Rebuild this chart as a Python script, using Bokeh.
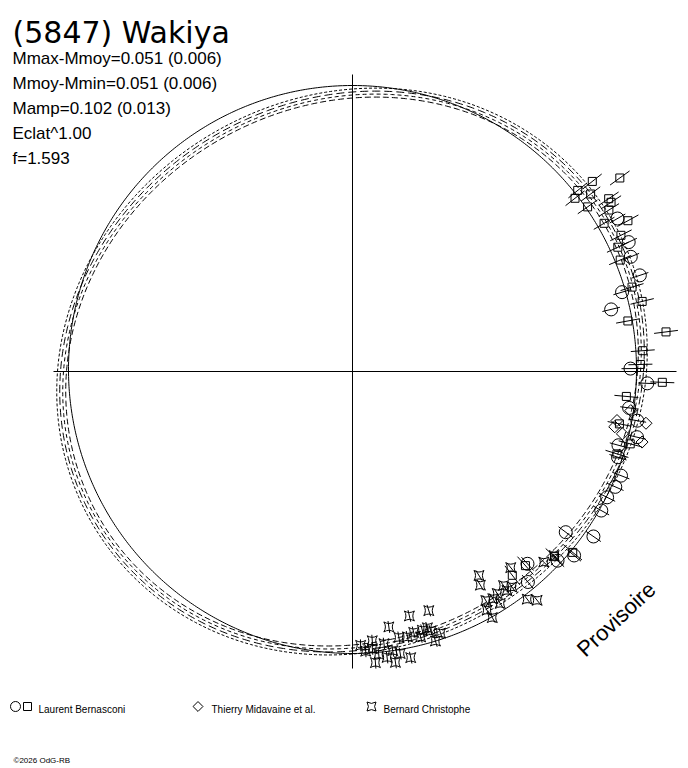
import numpy as np
from bokeh.plotting import figure
from bokeh.models import Range1d, Label
from bokeh.embed import file_html
from bokeh.resources import INLINE

# ---------------- texts ----------------
title_text = "(5847) Wakiya"
stats_lines = ["Mmax-Mmoy=0.051 (0.006)", "Mmoy-Mmin=0.051 (0.006)",
               "Mamp=0.102 (0.013)", "Eclat^1.00", "f=1.593"]
legend_names = ["Laurent Bernasconi", "Thierry Midavaine et al.", "Bernard Christophe"]
watermark = "Provisoire"
copyright_text = "\u00a92026 OdG-RB"

# ---------------- observations (phase angle in degrees, polar radius) ----------------
# Laurent Bernasconi, session 1 (circles)
circ_phase = [30.0, 25.1, 22.4, 18.5, 16.4, 13.5, 0.6, -2.3, -7.5, -9.8, -13.0, -15.5,
              -17.9, -21.2, -23.7, -26.3, -29.2, -34.4, -37.0, -39.7, -47.7, -50.2, -42.7]
circ_r = [306, 305, 301, 303, 281, 266, 278, 295, 279, 289, 292, 276,
          279, 288, 287, 284, 285, 292, 267, 288, 260, 274, 279]
circ_err = 9

# Laurent Bernasconi, session 2 (squares)
sq_phase = [38.4, 35.9, 38.8, 37.9, 36.7, 35.0, 34.0, 33.2, 32.2, 30.5, 28.7, 26.9,
            25.1, 22.6, 16.8, 13.6, 10.4, 7.2, 4.1, 1.4, -2.0, -5.2, -11.1, -14.6,
            -17.3, -39.4, -42.5, -51.9, -48.3]
sq_r = [306, 330, 289, 282, 297, 287, 309, 309, 303, 292, 314, 301,
        293, 290, 292, 298, 280, 316, 291, 288, 310, 275, 272, 287,
        277, 285, 274, 259, 260]
sq_err = 12

# Thierry Midavaine et al. (diamonds)
dia_phase = [-10.5, -10.0, -13.0, -13.7, -11.9, -8.0]
dia_r = [269, 298, 277, 298, 268, 281]

# Bernard Christophe (pinched squares)
star_phase = [-51.1, -58.2, -59.1, -72.3, -76.9, -81.9, -85.8, -83.4, -80.1, -78.3,
              -74.9, -73.2, -72.9, -75.6, -84.7, -83.1, -85.5, -80.4, -78.5, -59.8,
              -60.6, -60.4, -56.9, -57.5, -54.8, -53.5, -52.5, -51.1, -44.9, -42.4,
              -87.3, -88.3, -81.8, -73.7, -76.8, -81.6, -54.8, -58.3, -85.9, -71.4]
star_r = [252, 240, 249, 251, 251, 258, 270, 274, 270, 271,
          268, 271, 282, 274, 284, 288, 292, 286, 292, 265,
          274, 283, 265, 275, 268, 268, 287, 294, 270, 273,
          280, 274, 282, 267, 268, 294, 262, 267, 278, 276]
star_err = 6

# ---------------- fitted curves (Fourier coefficients of the polar radius) ----------------
# r(t) = a0 + a1 cos t + b1 sin t + a2 cos 2t + b2 sin 2t
fit_harm = [-0.5, 0.0, 6.0, 11.0]            # a1, b1, a2, b2 of the dashed fits
fit_a0 = [279.5, 282.5, 285.5, 288.5]        # mean radius of each dashed fit
fit_dash = ["6 3", "4 3", "8 4", "3 2"]
ref_coeffs = [284.0, 0.0, 2.0, 0.0, 0.0]     # solid reference curve

# axis extents
axis_left, axis_right, axis_down, axis_up = -299, 324, -297, 297


def polar(deg, r):
    t = np.radians(np.asarray(deg, dtype=float))
    r = np.asarray(r, dtype=float)
    return r * np.cos(t), r * np.sin(t)


def fourier(t_deg, a0, a1, b1, a2, b2):
    t = np.radians(t_deg)
    return a0 + a1 * np.cos(t) + b1 * np.sin(t) + a2 * np.cos(2 * t) + b2 * np.sin(2 * t)


p = figure(width=688, height=768, x_range=Range1d(-352, 336), y_range=Range1d(-397, 371),
           output_backend="svg", toolbar_location=None, min_border=0,
           x_axis_type=None, y_axis_type=None, outline_line_color=None,
           background_fill_color="white", border_fill_color="white")
p.grid.visible = False

# axes cross
p.segment(x0=[axis_left, 0], y0=[0, axis_down], x1=[axis_right, 0], y1=[0, axis_up],
          line_color="black", line_width=1)

tt = np.linspace(0, 360, 721)
# solid reference curve
rx, ry = polar(tt, fourier(tt, *ref_coeffs))
p.line(rx, ry, line_color="black", line_width=1)
# dashed fits
for a0, dash in zip(fit_a0, fit_dash):
    fx, fy = polar(tt, fourier(tt, a0, *fit_harm))
    p.line(fx, fy, line_color="black", line_width=1, line_dash=dash)


def errbars(phase, r, e):
    x0, y0 = polar(phase, np.asarray(r) - e)
    x1, y1 = polar(phase, np.asarray(r) + e)
    p.segment(x0=x0, y0=y0, x1=x1, y1=y1, line_color="black", line_width=1)


errbars(sq_phase, sq_r, sq_err)
errbars(circ_phase, circ_r, circ_err)
errbars(star_phase, star_r, star_err)

mk = dict(fill_alpha=0, line_color="black", line_width=1)
cx, cy = polar(circ_phase, circ_r)
p.scatter(cx, cy, marker="circle", size=13, **mk)
sx, sy = polar(sq_phase, sq_r)
p.scatter(sx, sy, marker="square", size=8, **mk)
dx, dy = polar(dia_phase, dia_r)
p.scatter(dx, dy, marker="square", angle=np.pi / 4, size=8.5, **mk)
bx, by = polar(star_phase, star_r)
p.scatter(bx, by, marker="square_pin", size=10, **mk)

# ---------------- texts ----------------
p.add_layout(Label(x=-340, y=339, text=title_text, text_font="DejaVu Sans",
                   text_font_size="30px", text_color="black", text_baseline="alphabetic"))
for i, s in enumerate(stats_lines):
    p.add_layout(Label(x=-340, y=313 - 25 * i, text=s, text_font="Liberation Sans",
                       text_font_size="17px", text_color="black", text_baseline="alphabetic"))

# legend
ly = -335
p.scatter([-337], [ly], marker="circle", size=10, **mk)
p.scatter([-325], [ly], marker="square", size=8, **mk)
p.scatter([-154.5], [ly], marker="square", angle=np.pi / 4, size=7, **mk)
p.scatter([19], [ly], marker="square_pin", size=9, **mk)
for xx, name in zip([-314, -141, 31], legend_names):
    p.add_layout(Label(x=xx, y=-338, text=name, text_font="Liberation Sans",
                       text_font_size="10px", text_color="black", text_baseline="alphabetic"))

p.add_layout(Label(x=-339, y=-389, text=copyright_text, text_font="Liberation Sans",
                   text_font_size="8px", text_color="black", text_baseline="alphabetic"))

p.add_layout(Label(x=228, y=-281, text=watermark, angle=np.radians(43),
                   text_font="Liberation Sans", text_font_size="22px", text_color="black",
                   text_baseline="alphabetic", text_align="left"))

open("out.html", "w").write(file_html(p, INLINE))
